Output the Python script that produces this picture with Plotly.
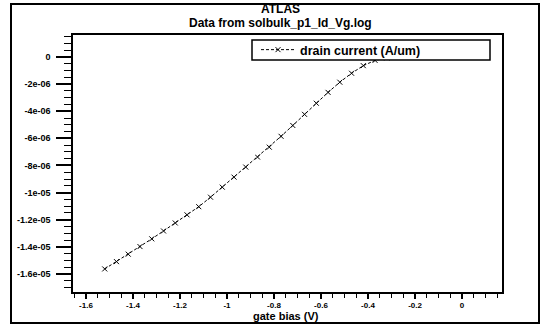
import plotly.graph_objects as go

# ---- data ----
gate_bias = [-1.52, -1.47, -1.42, -1.37, -1.32, -1.27, -1.22, -1.17, -1.12, -1.07,
             -1.02, -0.97, -0.92, -0.87, -0.82, -0.77, -0.72, -0.67, -0.62, -0.57,
             -0.52, -0.47, -0.42, -0.37, -0.32, -0.27, -0.22, -0.17, -0.12, -0.07, -0.02]
drain_current = [-15.63e-6, -15.09e-6, -14.54e-6, -13.98e-6, -13.41e-6, -12.83e-6,
                 -12.24e-6, -11.64e-6, -11.04e-6, -10.34e-6, -9.60e-6, -8.86e-6,
                 -8.12e-6, -7.38e-6, -6.65e-6, -5.85e-6, -5.05e-6, -4.23e-6,
                 -3.41e-6, -2.61e-6, -1.86e-6, -1.20e-6, -0.64e-6, -0.25e-6,
                 -0.07e-6, -0.02e-6, -0.005e-6, -0.002e-6, -0.001e-6, -0.0005e-6,
                 -0.0002e-6]
x_tick_vals = [-1.6, -1.4, -1.2, -1.0, -0.8, -0.6, -0.4, -0.2, 0.0]
x_tick_text = ["-1.6", "-1.4", "-1.2", "-1", "-0.8", "-0.6", "-0.4", "-0.2", "0"]
y_tick_vals = [0, -2e-6, -4e-6, -6e-6, -8e-6, -1e-5, -1.2e-5, -1.4e-5, -1.6e-5]
y_tick_text = ["0", "-2e-06", "-4e-06", "-6e-06", "-8e-06", "-1e-05", "-1.2e-05",
               "-1.4e-05", "-1.6e-05"]
series_name = "drain current (A/um)"
title_main = "ATLAS"
title_sub = "Data from solbulk_p1_Id_Vg.log"
x_title = "gate bias (V)"

# ---- layout geometry (pixels) ----
W, H = 543, 326
L, R, T, B = 73, 502, 35, 292
pw, ph = R - L, B - T


def px_x(p):
    return (p - L) / pw


def px_y(p):
    return (B - p) / ph


FONT = "Liberation Sans, Arial, sans-serif"

fig = go.Figure()
fig.add_trace(go.Scatter(
    x=gate_bias, y=drain_current, mode="lines+markers", name=series_name,
    line=dict(color="black", width=1, dash="3px,2px"),
    marker=dict(symbol="x-thin", size=5, color="black",
                line=dict(width=1, color="black")),
))

fig.update_layout(
    width=W, height=H, autosize=False,
    margin=dict(l=L, r=W - R, t=T, b=H - B, pad=0),
    paper_bgcolor="white", plot_bgcolor="white",
    font=dict(family=FONT, color="black"),
    showlegend=True,
    legend=dict(
        x=px_x(256), xanchor="left", y=px_y(50), yanchor="middle",
        bgcolor="rgba(0,0,0,0)", borderwidth=0, itemwidth=34,
        font=dict(family=FONT, size=12.5, color="black", weight="bold"),
    ),
    xaxis=dict(
        range=[-1.655, 0.170], tickmode="array", tickvals=x_tick_vals,
        ticktext=x_tick_text, ticks="outside", ticklen=5, tickwidth=1.5,
        tickcolor="black", showline=True, linecolor="black", linewidth=1.5,
        mirror=True, showgrid=False, zeroline=False,
        tickfont=dict(family=FONT, size=8, color="black", weight="bold"),
        minor=dict(tickmode="linear", tick0=0, dtick=0.05, ticks="outside",
                   ticklen=4, tickwidth=1, tickcolor="black", showgrid=False),
    ),
    yaxis=dict(
        range=[-1.733e-5, 1.62e-6], tickmode="array", tickvals=y_tick_vals,
        ticktext=y_tick_text, ticks="outside", ticklen=15, tickwidth=1.5,
        tickcolor="black", showline=True, linecolor="black", linewidth=1.5,
        mirror=True, showgrid=False, zeroline=False, ticklabelstandoff=4,
        tickfont=dict(family=FONT, size=9, color="black", weight="bold"),
        minor=dict(tickmode="linear", tick0=0, dtick=5e-7, ticks="outside",
                   ticklen=7, tickwidth=1, tickcolor="black", showgrid=False),
    ),
    annotations=[
        dict(text=title_main, xref="paper", yref="paper",
             x=px_x(280), y=px_y(9.5), xanchor="center", yanchor="middle",
             showarrow=False,
             font=dict(family=FONT, size=12, color="black", weight="bold")),
        dict(text=title_sub, xref="paper", yref="paper",
             x=px_x(280), y=px_y(23.5), xanchor="center", yanchor="middle",
             showarrow=False,
             font=dict(family=FONT, size=12, color="black", weight="bold")),
        dict(text=x_title, xref="paper", yref="paper",
             x=px_x(286), y=px_y(315.5), xanchor="center", yanchor="middle",
             showarrow=False,
             font=dict(family=FONT, size=11, color="black", weight="bold")),
    ],
    shapes=[
        # outer frame
        dict(type="rect", xref="paper", yref="paper",
             x0=px_x(11), x1=px_x(539), y0=px_y(323), y1=px_y(4),
             line=dict(color="black", width=2), fillcolor="rgba(0,0,0,0)",
             layer="below"),
        # legend box
        dict(type="rect", xref="paper", yref="paper",
             x0=px_x(252), x1=px_x(490), y0=px_y(60), y1=px_y(40),
             line=dict(color="black", width=1.5), fillcolor="white",
             layer="above"),
    ],
)

fig.write_html("out.html",
               config={"displayModeBar": False},
               post_script="document.body.style.margin='0';"
                           "document.body.style.padding='0';")
